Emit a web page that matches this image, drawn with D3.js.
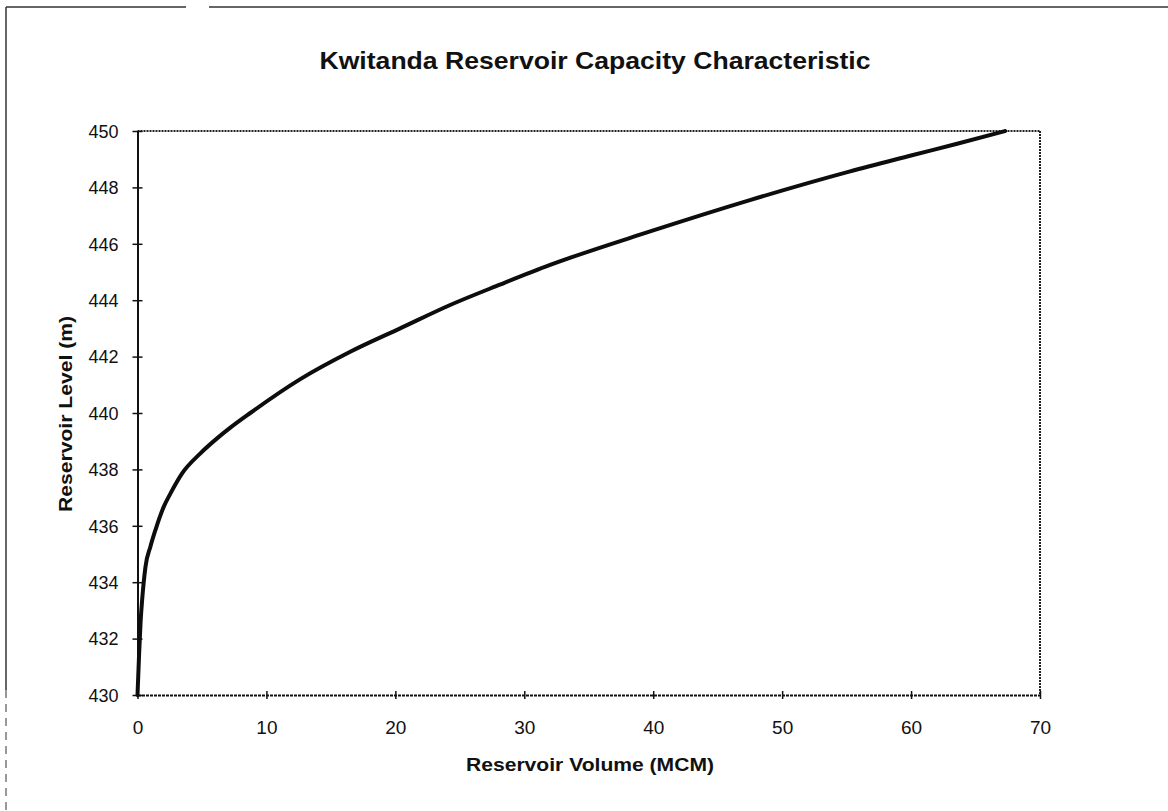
<!DOCTYPE html>
<html>
<head>
<meta charset="utf-8">
<script src="https://cdn.jsdelivr.net/npm/d3@7/dist/d3.min.js"></script>
<style>
  html, body { margin: 0; padding: 0; background: #fff; }
  svg { display: block; }
  text { font-family: "Liberation Sans", Arial, Helvetica, sans-serif; fill: #111; }
</style>
</head>
<body>
<svg id="chart" width="1168" height="811"></svg>
<script>
// Storage curve: reservoir volume (MCM) against water level (m)
const volume = [0, 0.12, 0.24, 0.36, 0.62, 1.0, 1.39, 2.04, 2.56, 3.46, 4.88, 6.17, 7.2, 8.75, 12.63, 16.5, 20.37, 24.25, 28.1, 32.0, 39.7, 47.5, 55.2, 60.0, 63.5, 67.3];
const level  = [430, 431.4, 432.6, 433.37, 434.55, 435.26, 435.85, 436.68, 437.15, 437.86, 438.57, 439.10, 439.48, 440.0, 441.2, 442.17, 443.0, 443.83, 444.55, 445.25, 446.43, 447.55, 448.56, 449.13, 449.54, 450];

const xTicks = [0, 10, 20, 30, 40, 50, 60, 70];
const yTicks = [430, 432, 434, 436, 438, 440, 442, 444, 446, 448, 450];

const titleText = "Kwitanda Reservoir Capacity Characteristic";
const xTitleText = "Reservoir Volume (MCM)";
const yTitleText = "Reservoir Level (m)";

const svg = d3.select("#chart");
const plot = { left: 137.5, right: 1040, top: 131, bottom: 695 };

const x = d3.scaleLinear().domain([0, 70]).range([plot.left, plot.right]);
const y = d3.scaleLinear().domain([430, 450]).range([plot.bottom, plot.top]);

// Outer page frame (top and left edges)
const frame = svg.append("g").attr("stroke", "#333").attr("fill", "none");
frame.append("line").attr("x1", 6).attr("y1", 7).attr("x2", 186).attr("y2", 7).attr("stroke-width", 1.5);
frame.append("line").attr("x1", 209).attr("y1", 7).attr("x2", 1168).attr("y2", 7).attr("stroke-width", 1.5);
frame.append("line").attr("x1", 6).attr("y1", 7).attr("x2", 6).attr("y2", 690).attr("stroke-width", 1.5);
frame.append("line").attr("x1", 6).attr("y1", 690).attr("x2", 6).attr("y2", 811)
  .attr("stroke-width", 1).attr("stroke-dasharray", "8,6");

// Title
svg.append("text")
  .attr("x", 595).attr("y", 69)
  .attr("text-anchor", "middle")
  .attr("font-size", 24).attr("font-weight", "bold")
  .attr("textLength", 551).attr("lengthAdjust", "spacingAndGlyphs")
  .text(titleText);

// Plot frame: top and right edges dotted
svg.append("line")
  .attr("x1", x(0)).attr("y1", y(450)).attr("x2", x(70)).attr("y2", y(450))
  .attr("stroke", "#222").attr("stroke-width", 2).attr("stroke-dasharray", "2,1");
svg.append("line")
  .attr("x1", x(70)).attr("y1", y(450)).attr("x2", x(70)).attr("y2", y(430))
  .attr("stroke", "#222").attr("stroke-width", 2).attr("stroke-dasharray", "2,1");

// X axis
const xAxis = svg.append("g")
  .attr("transform", `translate(0,${y(430)})`)
  .call(d3.axisBottom(x).tickValues(xTicks).tickSize(4).tickPadding(0).tickSizeOuter(0));
xAxis.select(".domain").attr("stroke", "#111").attr("stroke-width", 2).attr("stroke-dasharray", "3,1");
xAxis.selectAll(".tick line").attr("y1", -4).attr("y2", 4).attr("stroke", "#111").attr("stroke-width", 1.5);
xAxis.selectAll(".tick text")
  .attr("y", 39).attr("dy", 0)
  .attr("font-size", 19).attr("fill", "#111");

// Y axis
const yAxis = svg.append("g")
  .attr("transform", `translate(${x(0)},0)`)
  .call(d3.axisLeft(y).tickValues(yTicks).tickSize(5).tickPadding(0).tickSizeOuter(0));
yAxis.select(".domain").attr("stroke", "#111").attr("stroke-width", 2);
yAxis.selectAll(".tick line").attr("x1", -5).attr("x2", 5).attr("stroke", "#111").attr("stroke-width", 1.5);
yAxis.selectAll(".tick text")
  .attr("x", -19).attr("dy", "0.35em")
  .attr("font-size", 18).attr("fill", "#111");
svg.selectAll(".domain, .tick line").attr("fill", "none");
svg.selectAll("g[font-family]").attr("font-family", null).attr("font-size", null);

// Axis titles
svg.append("text")
  .attr("x", 590).attr("y", 771)
  .attr("text-anchor", "middle")
  .attr("font-size", 19).attr("font-weight", "bold")
  .attr("textLength", 248).attr("lengthAdjust", "spacingAndGlyphs")
  .text(xTitleText);

svg.append("text")
  .attr("transform", `translate(72,414) rotate(-90)`)
  .attr("text-anchor", "middle")
  .attr("font-size", 19).attr("font-weight", "bold")
  .attr("textLength", 196).attr("lengthAdjust", "spacingAndGlyphs")
  .text(yTitleText);

// Capacity curve
const points = volume.map((v, i) => [v, level[i]]);
svg.append("path")
  .datum(points)
  .attr("fill", "none")
  .attr("stroke", "#0d0d0d")
  .attr("stroke-width", 4)
  .attr("stroke-linejoin", "round")
  .attr("stroke-linecap", "round")
  .attr("d", d3.line().x(d => x(d[0])).y(d => y(d[1])).curve(d3.curveMonotoneX));
</script>
</body>
</html>
